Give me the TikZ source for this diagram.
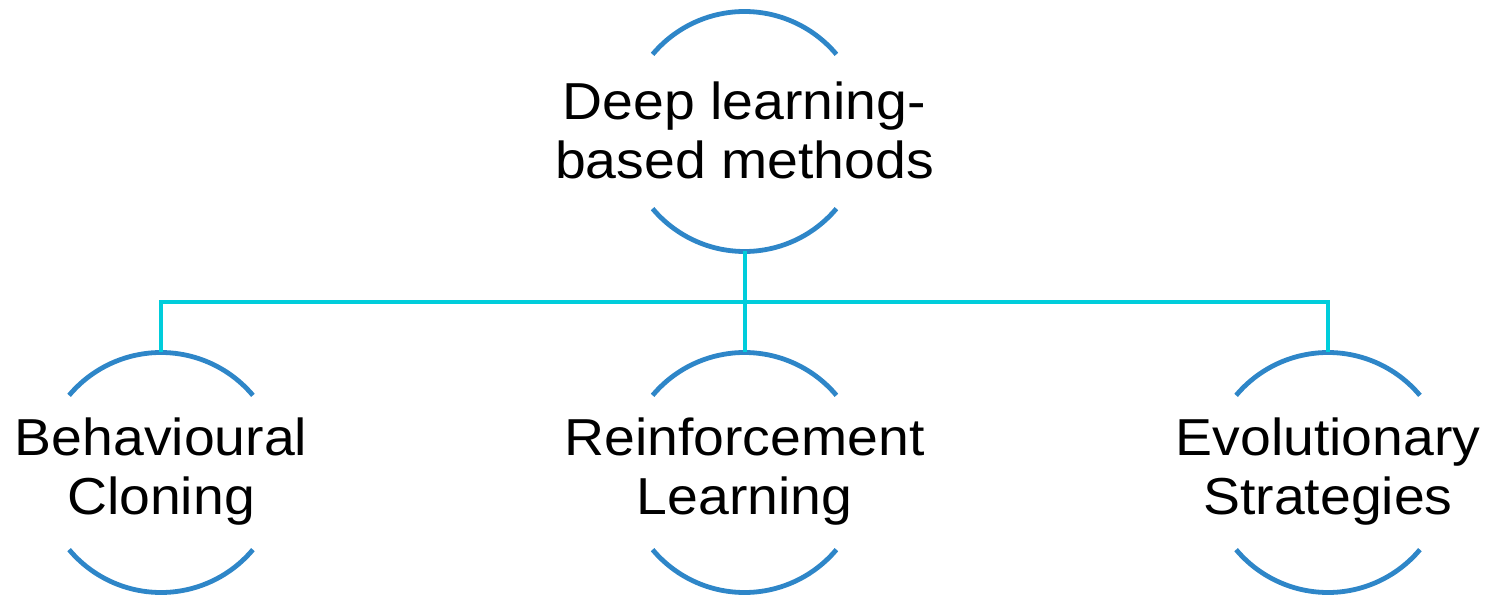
\documentclass[tikz,border=0pt]{standalone}
\usepackage{fontspec}
\setmainfont[FakeStretch=1.065]{Liberation Sans}
\definecolor{arcblue}{HTML}{2E86C8}
\definecolor{linkcyan}{HTML}{00CDDB}
\begin{document}
\begin{tikzpicture}[x=1pt,y=1pt,
  lbl/.style={align=center,inner sep=0pt,font=\fontsize{52}{59}\selectfont},
  rim/.style={draw=arcblue,line width=4.8pt},
  link/.style={draw=linkcyan,line width=4pt}]
\useasboundingbox (0,0) rectangle (1488,595);
\coordinate (c0) at (744.5,463.5);
\coordinate (c1) at (161,122.5);
\coordinate (c2) at (744.5,122.5);
\coordinate (c3) at (1328,122.5);
\node[lbl] (n0) at ([yshift=1]c0) {Deep learning-\\based methods};
\node[lbl] (n1) at ([yshift=1]c1) {Behavioural\\Cloning};
\node[lbl] (n2) at ([yshift=1]c2) {Reinforcement\\Learning};
\node[lbl] (n3) at ([yshift=1]c3) {Evolutionary\\Strategies};
\foreach \c in {c0,c1,c2,c3}{
  \draw[rim] ([shift={(40:120)}]\c) arc[start angle=40,end angle=140,radius=120];
  \draw[rim] ([shift={(220:120)}]\c) arc[start angle=220,end angle=320,radius=120];
}
\coordinate (t0) at ([yshift=-120]c0);
\coordinate (t1) at ([yshift=120]c1);
\coordinate (t2) at ([yshift=120]c2);
\coordinate (t3) at ([yshift=120]c3);
\coordinate (bus) at (744.5,293);
\draw[link] (t0) -- (bus);
\draw[link] (bus) -| (t1);
\draw[link] (bus) -- (t2);
\draw[link] (bus) -| (t3);
\end{tikzpicture}
\end{document}
